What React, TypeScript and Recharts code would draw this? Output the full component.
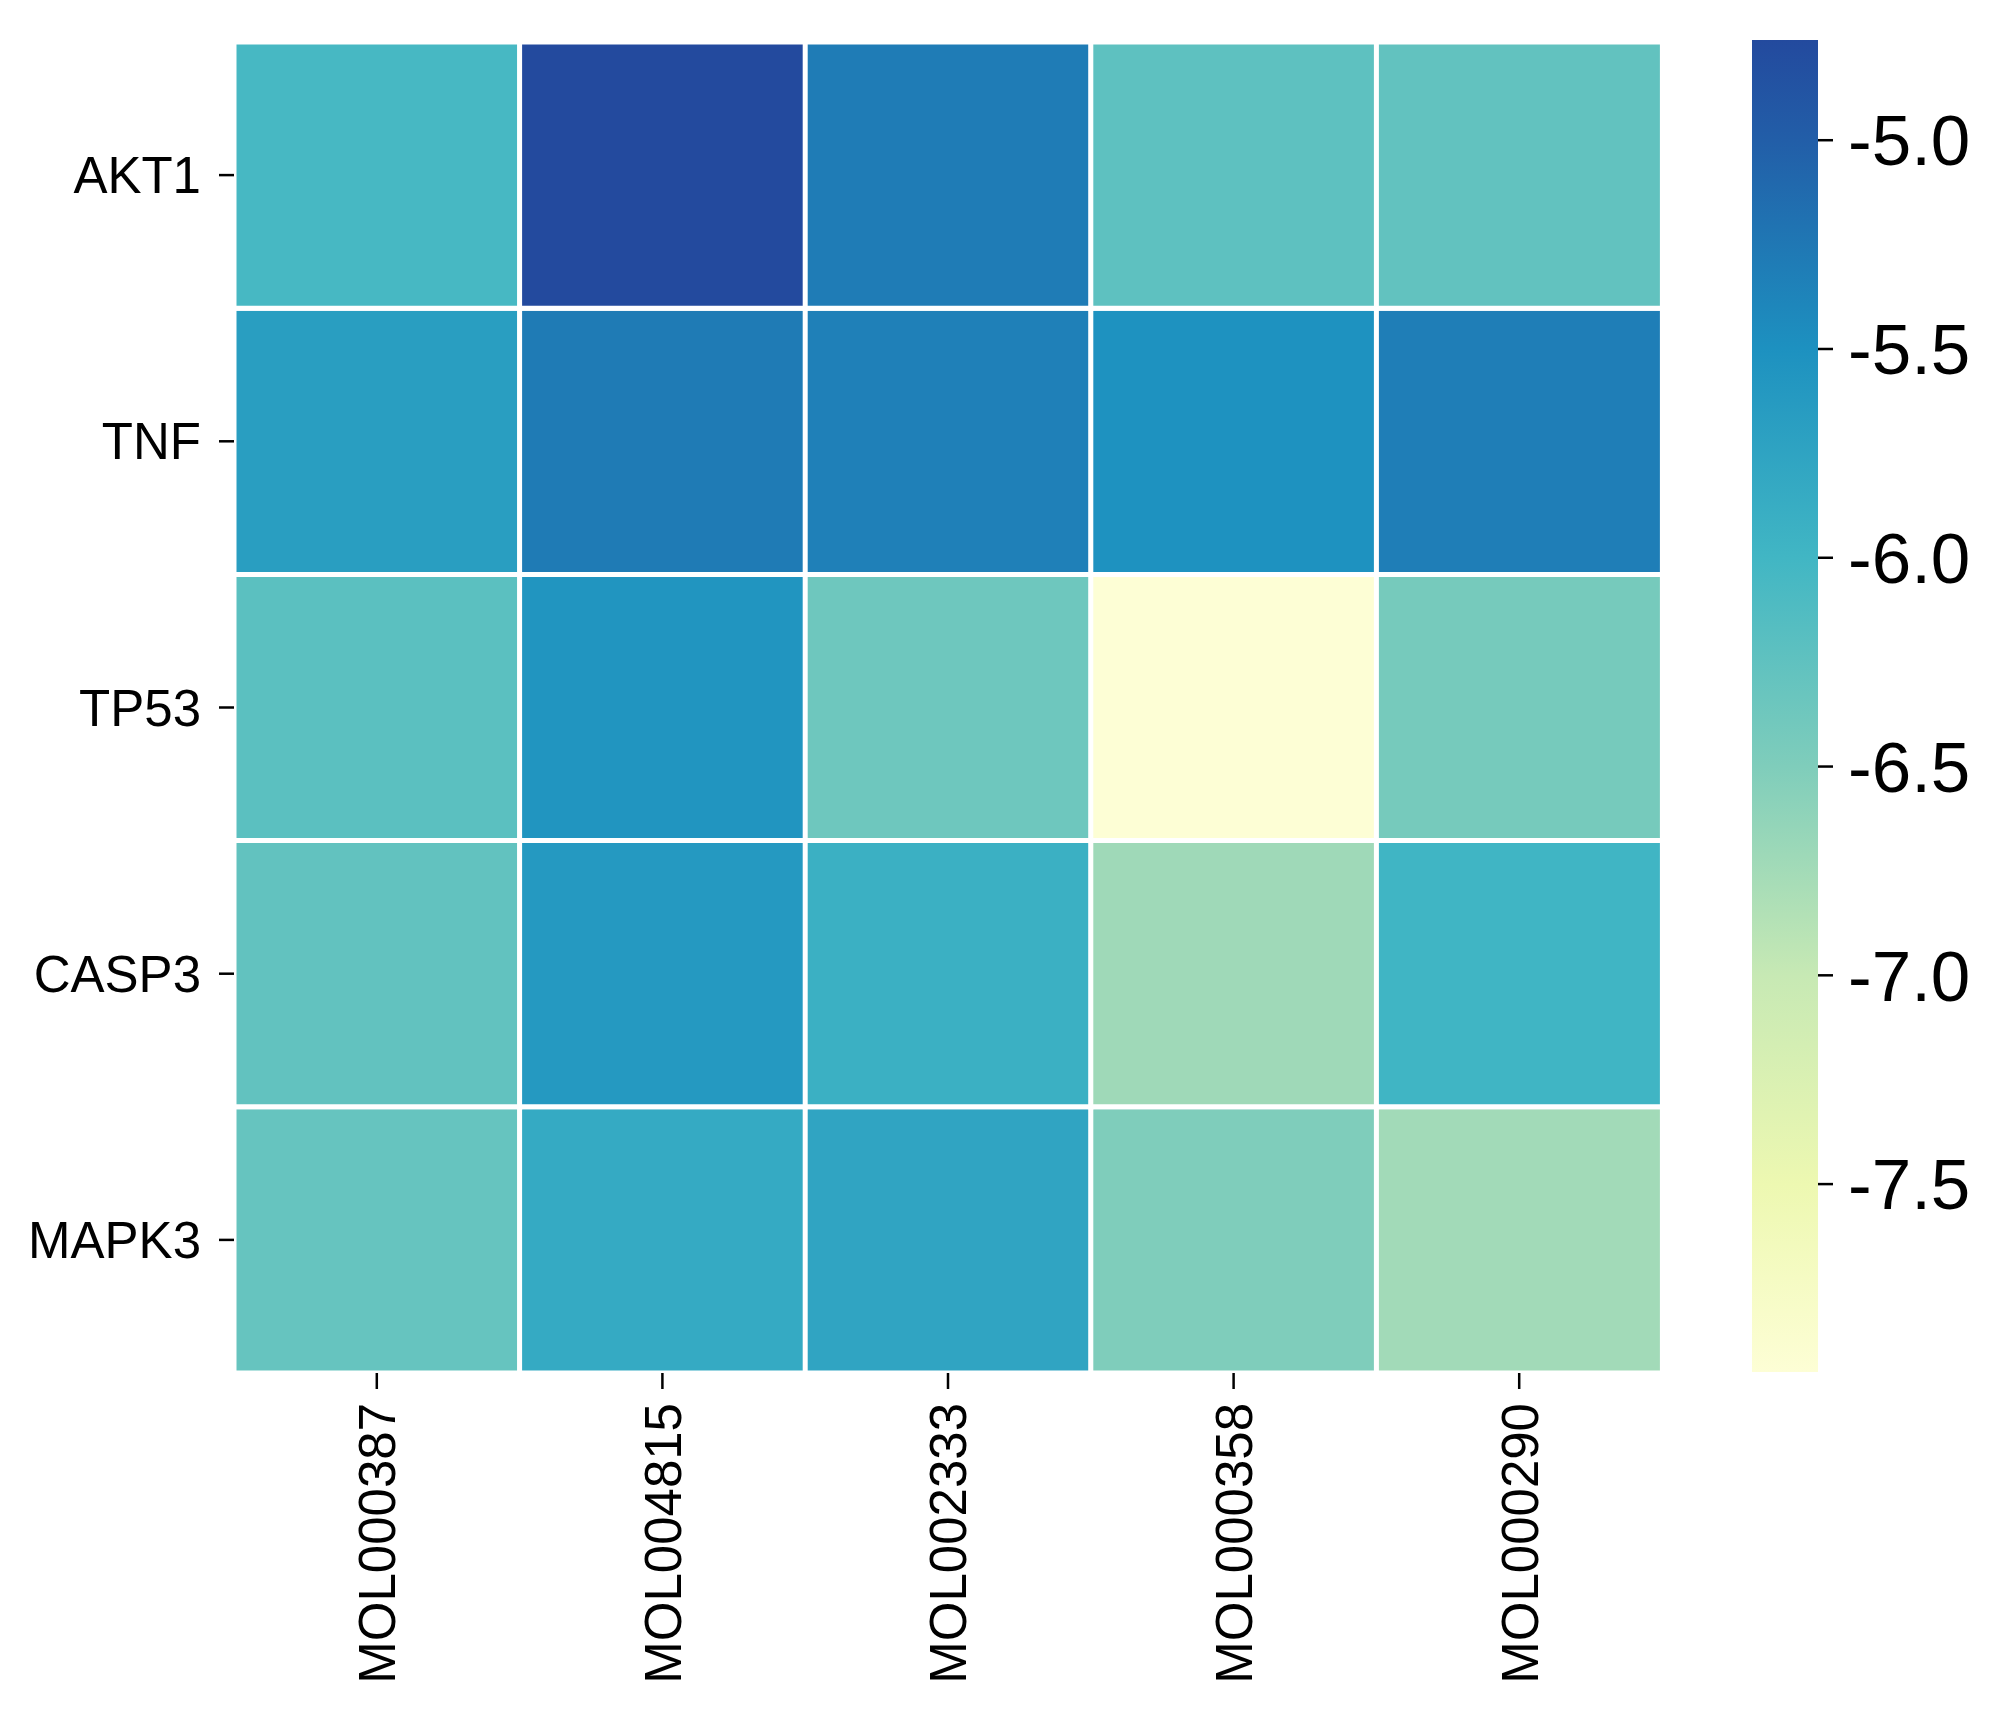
import React from "react";
import { BarChart, Bar, XAxis, YAxis, Cell } from "recharts";

const molecules = ["MOL000387", "MOL004815", "MOL002333", "MOL000358", "MOL000290"];
const genes = ["AKT1", "TNF", "TP53", "CASP3", "MAPK3"];

// one row per gene, values per molecule (left to right)
const akt1 = [-6.05, -4.76, -5.29, -6.23, -6.27];
const tnf = [-5.67, -5.28, -5.33, -5.52, -5.31];
const tp53 = [-6.21, -5.55, -6.36, -7.95, -6.43];
const casp3 = [-6.27, -5.61, -5.92, -6.72, -5.98];
const mapk3 = [-6.3, -5.84, -5.76, -6.5, -6.74];

const rows = [akt1, tnf, tp53, casp3, mapk3];
const cbTicks = [-7.5, -7.0, -6.5, -6.0, -5.5, -5.0];

// YlGnBu-like stops keyed by value
const cmapValues = [-8.0, -7.5, -7.0, -6.5, -6.0, -5.5, -5.0, -4.5];
const cmapColors = ["#ffffd9", "#edf8b1", "#c7e9b4", "#7fcdbb", "#41b6c4", "#1d91c0", "#225ea8", "#253494"];

const FONT = "'Liberation Sans', Arial, sans-serif";

const allValues = rows.flat();
const vmin = Math.min(...allValues);
const vmax = Math.max(...allValues);

function hexToRgb(h: string) {
  const n = parseInt(h.slice(1), 16);
  return [(n >> 16) & 255, (n >> 8) & 255, n & 255];
}

function colorAt(v: number) {
  if (v <= cmapValues[0]) return cmapColors[0];
  for (let i = 1; i < cmapValues.length; i++) {
    if (v <= cmapValues[i]) {
      const t = (v - cmapValues[i - 1]) / (cmapValues[i] - cmapValues[i - 1]);
      const a = hexToRgb(cmapColors[i - 1]);
      const b = hexToRgb(cmapColors[i]);
      const c = a.map((x, k) => Math.round(x + (b[k] - x) * t));
      return `rgb(${c[0]},${c[1]},${c[2]})`;
    }
  }
  return cmapColors[cmapColors.length - 1];
}

// unit cells stacked per molecule column
const table = molecules.map((mol) => {
  const row: Record<string, any> = { mol };
  genes.forEach((g) => (row[g] = 1));
  return row;
});

const cbData = [{ name: "cb", range: [vmin, vmax] }];

const gradStops = [vmin, ...cmapValues.filter((v) => v > vmin && v < vmax), vmax];

const XTick = (props: any) => {
  const { x, y, payload } = props;
  return (
    <text
      x={x}
      y={y}
      transform={`rotate(-90 ${x} ${y})`}
      textAnchor="end"
      dy="0.36em"
      fontSize={51}
      fontFamily={FONT}
      fill="#000"
    >
      {payload.value}
    </text>
  );
};

export default function App() {
  const rowOrder = genes.map((g, i) => ({ g, vals: rows[i] })).reverse();
  return (
    <div style={{ position: "absolute", left: 0, top: 0, width: 2000, height: 1717, background: "#fff" }}>
      <div style={{ position: "absolute", left: 0, top: 0 }}>
        <BarChart
          width={1700}
          height={1717}
          data={table}
          margin={{ top: 42, right: 38, left: 0, bottom: 0 }}
          barCategoryGap={0}
          barGap={0}
        >
          <XAxis
            dataKey="mol"
            height={344}
            axisLine={false}
            tickLine={{ stroke: "#000", strokeWidth: 2.5 }}
            tickSize={16}
            tickMargin={14}
            interval={0}
            tick={<XTick />}
          />
          <YAxis
            type="number"
            domain={[0, 5]}
            ticks={[0.5, 1.5, 2.5, 3.5, 4.5]}
            tickFormatter={(v: number) => genes[4 - Math.floor(v)]}
            width={234}
            axisLine={false}
            tickLine={{ stroke: "#000", strokeWidth: 2.5 }}
            tickSize={15}
            tickMargin={18}
            tick={{ fill: "#000", fontSize: 51, fontFamily: FONT }}
          />
          {rowOrder.map(({ g, vals }) => (
            <Bar key={g} dataKey={g} stackId="cells" isAnimationActive={false} stroke="#fff" strokeWidth={5}>
              {vals.map((v, i) => (
                <Cell key={`${g}-${i}`} fill={colorAt(v)} />
              ))}
            </Bar>
          ))}
        </BarChart>
      </div>
      <div style={{ position: "absolute", left: 1752, top: 0 }}>
        <BarChart
          width={248}
          height={1717}
          data={cbData}
          margin={{ top: 40, right: 0, left: 0, bottom: 345 }}
          barCategoryGap={0}
        >
          <defs>
            <linearGradient id="cbGrad" x1="0" y1="1" x2="0" y2="0">
              {gradStops.map((v) => (
                <stop key={v} offset={(v - vmin) / (vmax - vmin)} stopColor={colorAt(v)} />
              ))}
            </linearGradient>
          </defs>
          <XAxis dataKey="name" hide />
          <YAxis
            orientation="right"
            type="number"
            domain={[vmin, vmax]}
            allowDataOverflow
            ticks={cbTicks}
            tickFormatter={(v: number) => v.toFixed(1)}
            width={182}
            axisLine={false}
            tickLine={{ stroke: "#000", strokeWidth: 2.5 }}
            tickSize={15}
            tickMargin={15}
            tick={{ fill: "#000", fontSize: 71, fontFamily: FONT }}
          />
          <Bar dataKey="range" fill="url(#cbGrad)" isAnimationActive={false} />
        </BarChart>
      </div>
    </div>
  );
}
